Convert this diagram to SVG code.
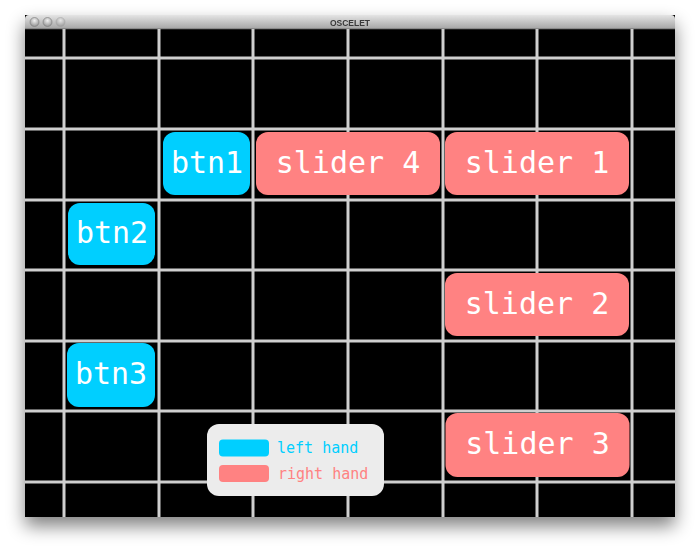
<svg xmlns="http://www.w3.org/2000/svg" width="700" height="552" viewBox="0 0 700 552">
  <defs>
    <filter id="shadow" x="-10%" y="-10%" width="120%" height="125%">
      <feGaussianBlur in="SourceAlpha" stdDeviation="9"/>
      <feOffset dx="0" dy="9" result="b"/>
      <feComponentTransfer><feFuncA type="linear" slope="0.5"/></feComponentTransfer>
      <feMerge><feMergeNode/><feMergeNode in="SourceGraphic"/></feMerge>
    </filter>
    <linearGradient id="title" x1="0" y1="0" x2="0" y2="1">
      <stop offset="0" stop-color="#e4e4e4"/>
      <stop offset="1" stop-color="#a4a4a4"/>
    </linearGradient>
    <radialGradient id="light" cx="0.5" cy="0.35" r="0.6">
      <stop offset="0" stop-color="#f2f2f2"/>
      <stop offset="1" stop-color="#9a9a9a"/>
    </radialGradient>
    <style>
      .grid line { stroke: #cfcfcf; stroke-width: 3; }
      .left { fill: #00cfff; }
      .right { fill: #ff8282; }
      .lbl { font-family: "DejaVu Sans Mono", "Liberation Mono", monospace; font-size: 30px; fill: #ffffff; text-anchor: middle; }
      .leg { font-family: "DejaVu Sans Mono", "Liberation Mono", monospace; font-size: 15px; }
    </style>
  </defs>
  <rect width="700" height="552" fill="#ffffff"/>
  <g id="window" filter="url(#shadow)">
    <rect x="25" y="15" width="650" height="502" fill="#000000"/>
    <path d="M25 19 Q25 15 29 15 L671 15 Q675 15 675 19 L675 29 L25 29 Z" fill="url(#title)"/>
    <line x1="25" y1="29" x2="675" y2="29" stroke="#5a5a5a" stroke-width="0.8"/>
    <circle cx="34.5" cy="22" r="4.5" fill="url(#light)" stroke="#7a7a7a" stroke-width="0.6"/>
    <circle cx="47.5" cy="22" r="4.5" fill="url(#light)" stroke="#7a7a7a" stroke-width="0.6"/>
    <circle cx="60.5" cy="22" r="4.5" fill="url(#light)" stroke="#9a9a9a" stroke-width="0.6" opacity="0.7"/>
    <text x="350" y="25.5" font-family="Liberation Sans, Arial, sans-serif" font-size="8.5" font-weight="bold" fill="#3a3a3a" text-anchor="middle">OSCELET</text>
  </g>
  <g class="grid" id="grid">
    <line x1="64" y1="29" x2="64" y2="517"/>
    <line x1="159" y1="29" x2="159" y2="517"/>
    <line x1="253" y1="29" x2="253" y2="517"/>
    <line x1="348" y1="29" x2="348" y2="517"/>
    <line x1="443" y1="29" x2="443" y2="517"/>
    <line x1="537" y1="29" x2="537" y2="517"/>
    <line x1="632" y1="29" x2="632" y2="517"/>
    <line x1="25" y1="58" x2="675" y2="58"/>
    <line x1="25" y1="129" x2="675" y2="129"/>
    <line x1="25" y1="200" x2="675" y2="200"/>
    <line x1="25" y1="270" x2="675" y2="270"/>
    <line x1="25" y1="341" x2="675" y2="341"/>
    <line x1="25" y1="411" x2="675" y2="411"/>
    <line x1="25" y1="482" x2="675" y2="482"/>
  </g>
  <g id="btn1">
    <rect class="left" x="163" y="132" width="87" height="63" rx="12"/>
    <text class="lbl" x="207" y="172.5">btn1</text>
  </g>
  <g id="slider4">
    <rect class="right" x="256" y="132" width="184" height="63" rx="12"/>
    <text class="lbl" x="348" y="172.5">slider 4</text>
  </g>
  <g id="slider1">
    <rect class="right" x="445" y="132" width="184" height="63" rx="12"/>
    <text class="lbl" x="537" y="172.5">slider 1</text>
  </g>
  <g id="btn2">
    <rect class="left" x="68" y="203" width="87" height="62" rx="12"/>
    <text class="lbl" x="112" y="243">btn2</text>
  </g>
  <g id="slider2">
    <rect class="right" x="445" y="273" width="184" height="63" rx="12"/>
    <text class="lbl" x="537" y="313.5">slider 2</text>
  </g>
  <g id="btn3">
    <rect class="left" x="67" y="343" width="88" height="64" rx="12"/>
    <text class="lbl" x="111" y="384">btn3</text>
  </g>
  <g id="slider3">
    <rect class="right" x="445.5" y="413" width="184" height="64" rx="12"/>
    <text class="lbl" x="537.5" y="454">slider 3</text>
  </g>
  <g id="legend">
    <rect x="207" y="424" width="177" height="72" rx="12" fill="#ececec"/>
    <rect class="left" x="219" y="439.5" width="50" height="17" rx="4"/>
    <text class="leg" x="277" y="453" fill="#00cfff">left hand</text>
    <rect class="right" x="219" y="465" width="50" height="17" rx="4"/>
    <text class="leg" x="278" y="478.5" fill="#ff8282">right hand</text>
  </g>
</svg>
